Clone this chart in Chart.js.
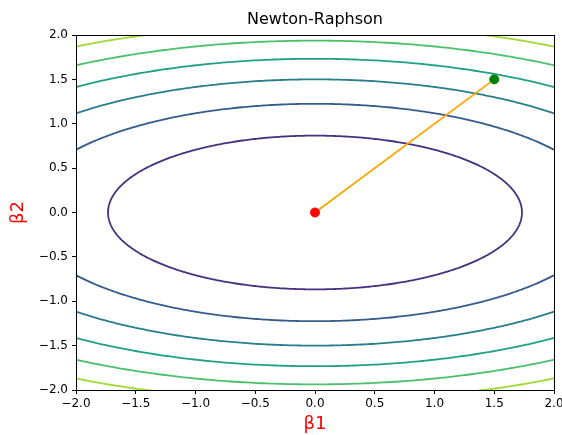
<!DOCTYPE html>
<html>
<head>
    <title>Newton-Raphson</title>
    <script src="https://cdn.jsdelivr.net/npm/chart.js"></script>
    <style>
        body { margin: 0; background: #fff; }
        #wrap { width: 562px; height: 435px; }
    </style>
</head>
<body>
    <div id="wrap"><canvas id="nrChart"></canvas></div>
    <script>
        // contour levels of f(b1, b2) = b1^2 + 4*b2^2
        var levels = [3, 6, 9, 12, 15, 18];
        var coefB1 = 1;
        var coefB2 = 4;
        // newton-raphson iterates (start -> optimum)
        var iterB1 = [1.5, 0];
        var iterB2 = [1.5, 0];
        var tickValues = [-2.0, -1.5, -1.0, -0.5, 0.0, 0.5, 1.0, 1.5, 2.0];

        var levelColors = ['#46327e', '#365c8d', '#277f8e', '#1fa187', '#4ac16d', '#a0da39'];

        function contourPoints(level) {
            var pts = [];
            var a = Math.sqrt(level / coefB1);
            var b = Math.sqrt(level / coefB2);
            for (var i = 0; i <= 360; i++) {
                var t = i / 360 * 2 * Math.PI;
                pts.push({x: a * Math.cos(t), y: b * Math.sin(t)});
            }
            return pts;
        }

        var datasets = [];
        for (var i = 0; i < levels.length; i++) {
            datasets.push({
                data: contourPoints(levels[i]),
                showLine: true,
                borderColor: levelColors[i],
                borderWidth: 1.8,
                pointRadius: 0,
                tension: 0.0001,
                capBezierPoints: false,
                order: 3
            });
        }

        var path = [];
        for (var j = 0; j < iterB1.length; j++) path.push({x: iterB1[j], y: iterB2[j]});
        datasets.push({
            data: path,
            showLine: true,
            borderColor: '#ffa500',
            borderWidth: 1.8,
            pointRadius: 0,
            order: 2
        });
        datasets.push({
            data: [path[0]],
            pointRadius: 4.5,
            pointBackgroundColor: '#008000',
            pointBorderColor: '#008000',
            order: 1
        });
        datasets.push({
            data: [path[path.length - 1]],
            pointRadius: 4.5,
            pointBackgroundColor: '#ff0000',
            pointBorderColor: '#ff0000',
            order: 0
        });

        // box round the plot and the title centred over it
        var frame = {
            id: 'frame',
            afterDatasetsDraw: function (chart) {
                var a = chart.chartArea;
                var c = chart.ctx;
                c.save();
                c.strokeStyle = '#000';
                c.lineWidth = 1;
                c.strokeRect(Math.round(a.left) + 0.5, Math.round(a.top) + 0.5,
                    Math.round(a.right - a.left), Math.round(a.bottom - a.top));
                c.fillStyle = '#000';
                c.font = '16px "DejaVu Sans"';
                c.textAlign = 'center';
                c.textBaseline = 'middle';
                c.fillText('Newton-Raphson', (a.left + a.right) / 2, 20);
                c.restore();
            }
        };

        function fmt(v) {
            return v.toFixed(1).replace('-', '\u2212');
        }

        function useTicks(scale) {
            scale.ticks = tickValues.map(function (v) { return {value: v}; });
        }

        var tickFont = {family: 'DejaVu Sans', size: 12};

        new Chart(document.getElementById('nrChart'), {
            type: 'scatter',
            data: {datasets: datasets},
            plugins: [frame],
            options: {
                responsive: true,
                maintainAspectRatio: false,
                animation: false,
                layout: {padding: {left: 0, right: 8, top: 35, bottom: 0}},
                plugins: {
                    legend: {display: false},
                    tooltip: {enabled: false},
                    title: {display: false}
                },
                scales: {
                    x: {
                        type: 'linear',
                        min: -2,
                        max: 2,
                        afterBuildTicks: useTicks,
                        afterFit: function (s) { s.height = 45; s.paddingLeft = 0; s.paddingRight = 0; },
                        border: {display: false},
                        grid: {drawOnChartArea: false, drawTicks: true, tickLength: 4, color: '#000'},
                        ticks: {color: '#000', font: tickFont, padding: 3, maxRotation: 0, callback: fmt},
                        title: {display: true, text: '\u03b21', color: '#ff0000',
                            font: {family: 'DejaVu Sans', size: 18}, padding: {top: 0, bottom: 0}}
                    },
                    y: {
                        type: 'linear',
                        min: -2,
                        max: 2,
                        afterBuildTicks: useTicks,
                        afterFit: function (s) { s.width = 76; s.paddingTop = 0; s.paddingBottom = 0; },
                        border: {display: false},
                        grid: {drawOnChartArea: false, drawTicks: true, tickLength: 4, color: '#000'},
                        ticks: {color: '#000', font: tickFont, padding: 4, callback: fmt},
                        title: {display: true, text: '\u03b22', color: '#ff0000',
                            font: {family: 'DejaVu Sans', size: 18}, padding: {top: 8, bottom: 0}}
                    }
                }
            }
        });
    </script>
</body>
</html>
